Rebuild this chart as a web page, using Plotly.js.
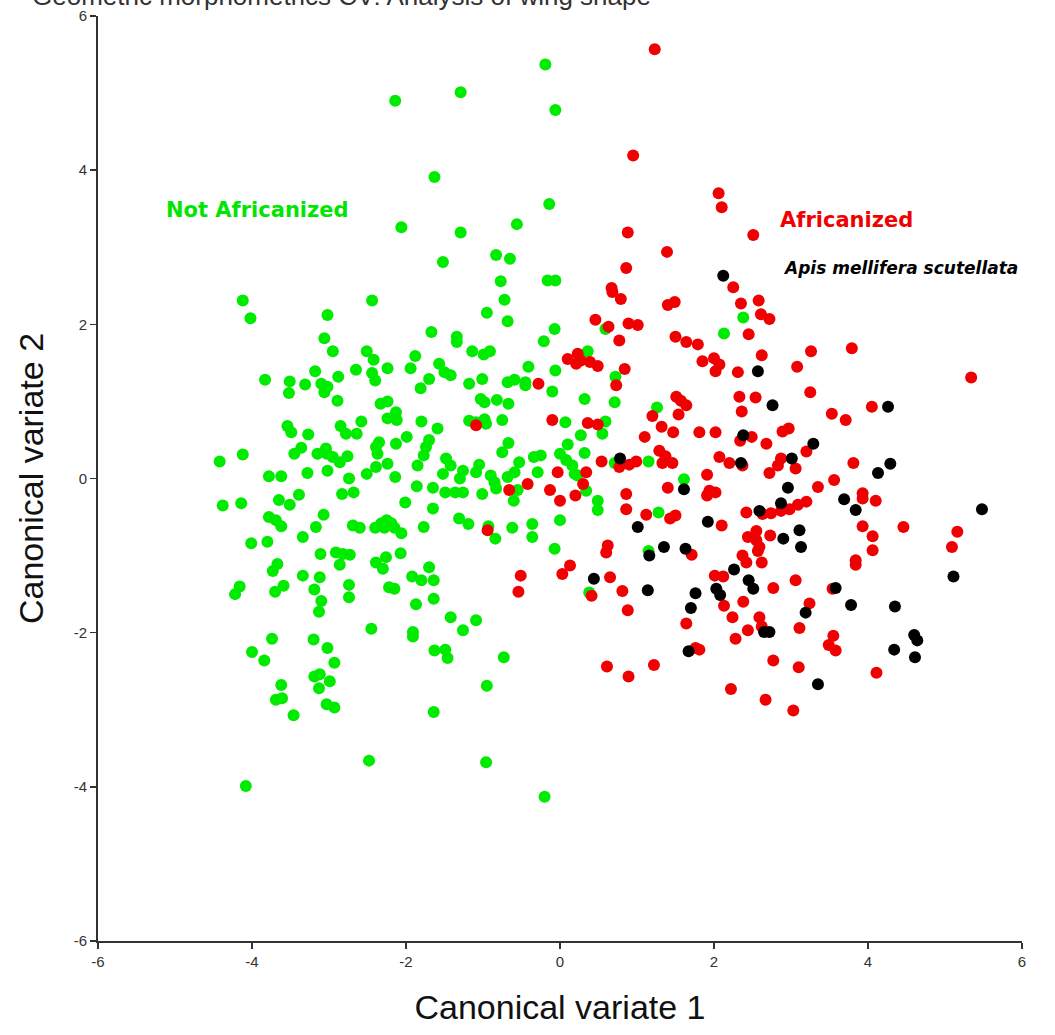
<!DOCTYPE html>
<html>
<head>
<meta charset="utf-8">
<script src="https://cdn.plot.ly/plotly-3.0.1.min.js"></script>
<style>html,body{margin:0;padding:0;background:#fff;}#chart{width:1055px;height:1035px;}</style>
</head>
<body>
<div id="chart"></div>
<script>
// Not Africanized (green)
var notAfrX = [-2.14,-1.29,-1.63,-2.06,-1.29,-1.52,-0.19,-0.06,-0.14,-0.56,-0.83,-0.65,-0.77,-0.16,-0.06,
-4.12,-4.02,-2.44,-3.02,-3.06,-2.95,-1.67,-1.34,-1.34,-2.51,-2.42,-2.24,-1.88,-1.94,-1.57,-1.42,-1.50,-1.70,-1.81,-2.65,-2.44,-2.40,-3.18,-2.88,-3.10,-3.02,-3.06,-2.89,-3.83,-3.51,-3.52,-3.31,-2.33,-2.24,-2.13,-2.24,-2.12,-1.80,-1.59,-2.58,-2.85,-2.78,-2.64,-3.54,-3.49,-3.27,-1.99,-2.13,-2.35,-2.39,-2.37,-1.70,-1.74,-1.77,-1.85,-1.48,-1.42,-1.26,-1.52,-1.30,-1.49,-1.36,-1.26,-1.65,-1.86,-3.04,-3.15,-3.03,-2.95,-2.86,-2.76,-3.36,-3.45,-4.12,-4.42,-2.51,-2.39,-2.24,-2.14,-3.28,-3.02,-3.78,-3.62,-2.74,-2.83,-2.68,-3.39,-3.65,-3.51,-4.38,-4.14,-2.01,-1.65,-1.31,-1.77,-3.07,-3.17,-3.78,-3.69,-3.62,-4.01,-3.80,-3.34,-2.69,-2.60,-2.40,-2.32,-2.25,-2.19,-2.28,-2.15,-2.06,
-0.72,-0.95,-0.68,-0.07,-0.21,-1.14,-0.99,-0.91,0.36,0.59,2.13,-0.41,-0.06,-1.18,-1.01,-0.68,-0.59,-0.45,-0.45,-0.10,0.72,-1.03,-0.98,-0.82,-0.67,0.32,0.71,-1.18,-1.09,-0.98,-0.96,-0.75,0.07,0.59,0.55,1.26,0.27,0.10,-0.67,-0.75,0.32,0.00,0.08,0.16,0.19,0.23,-0.25,-0.34,-0.53,-0.29,-1.05,-1.09,-0.59,-0.68,-0.90,-0.85,-0.83,0.71,1.15,1.61,0.34,-0.60,-0.55,-1.01,0.49,0.49,0.00,1.28,-1.19,-0.62,-0.36,-0.36,-0.93,-0.84,-0.07,1.15,2.38,
0.38,-1.09,-0.73,-0.95,-0.96,-0.20,
-3.67,-3.73,-4.16,-4.22,-3.59,-3.70,-3.34,-3.12,-3.19,-3.10,-3.13,-2.86,-3.11,-2.91,-2.82,-2.73,-2.74,-2.74,-2.39,-2.30,-2.26,-2.07,-2.22,-2.15,-2.45,-1.92,-1.80,-1.64,-1.70,-1.64,-1.87,-1.42,-1.26,-1.91,-1.91,-1.63,-1.49,-1.46,-1.64,-2.48,-4.08,-3.74,-4.00,-3.84,-3.20,-3.02,-2.93,-3.19,-3.12,-3.13,-2.99,-3.62,-3.69,-3.61,-3.46,-3.03,-2.93];
var notAfrY = [4.90,5.01,3.91,3.26,3.19,2.81,5.37,4.78,3.56,3.30,2.90,2.85,2.56,2.57,2.57,
2.31,2.08,2.31,2.12,1.82,1.65,1.90,1.84,1.77,1.65,1.54,1.43,1.59,1.43,1.49,1.34,1.38,1.29,1.17,1.41,1.37,1.27,1.39,1.32,1.23,1.19,1.12,1.01,1.28,1.26,1.11,1.22,0.97,1.00,0.86,0.78,0.76,0.74,0.65,0.74,0.68,0.58,0.58,0.68,0.60,0.57,0.54,0.45,0.47,0.41,0.32,0.50,0.41,0.30,0.17,0.26,0.17,0.10,0.06,0.00,-0.18,-0.18,-0.18,-0.12,-0.10,0.39,0.32,0.32,0.28,0.21,0.29,0.40,0.32,0.31,0.22,0.06,0.15,0.19,0.02,0.07,0.10,0.03,0.03,0.00,-0.20,-0.18,-0.21,-0.28,-0.34,-0.35,-0.32,-0.31,-0.39,-0.52,-0.63,-0.47,-0.63,-0.50,-0.54,-0.62,-0.84,-0.82,-0.76,-0.61,-0.64,-0.64,-0.58,-0.54,-0.58,-0.64,-0.64,-0.71,
2.32,2.15,2.04,1.94,1.78,1.65,1.61,1.65,1.65,1.94,1.88,1.45,1.40,1.23,1.29,1.25,1.28,1.25,1.21,1.13,1.32,1.03,0.99,1.02,0.97,1.03,0.99,0.75,0.73,0.77,0.71,0.76,0.73,0.74,0.58,0.92,0.56,0.44,0.46,0.34,0.33,0.32,0.24,0.17,0.06,0.04,0.30,0.28,0.21,0.08,0.18,0.08,0.08,0.02,0.04,-0.05,-0.13,0.20,0.22,-0.01,-0.16,-0.29,-0.15,-0.20,-0.29,-0.41,-0.54,-0.44,-0.59,-0.64,-0.59,-0.76,-0.62,-0.78,-0.91,-0.94,2.09,
-1.48,-1.84,-2.32,-2.69,-3.68,-4.13,
-1.11,-1.20,-1.40,-1.50,-1.39,-1.47,-1.26,-1.28,-1.44,-1.59,-1.73,-1.12,-0.98,-0.96,-0.98,-0.99,-1.38,-1.54,-1.09,-1.17,-1.02,-0.97,-1.41,-1.43,-1.95,-1.27,-1.32,-1.32,-1.15,-1.56,-1.63,-1.80,-1.97,-1.99,-2.05,-2.23,-2.22,-2.33,-3.03,-3.66,-3.99,-2.08,-2.25,-2.36,-2.09,-2.20,-2.39,-2.57,-2.54,-2.72,-2.63,-2.68,-2.87,-2.85,-3.07,-2.93,-2.97];

// Africanized (red)
var afrX = [1.23,0.95,2.06,2.10,0.88,1.39,0.86,0.67,2.25,2.51,
0.68,0.79,1.40,1.49,0.46,0.63,0.89,1.01,0.77,1.50,1.64,1.79,0.10,0.23,0.21,0.27,0.39,0.49,0.84,0.73,1.85,2.00,2.07,2.02,-0.28,1.51,1.57,1.64,1.20,1.54,-0.10,0.36,0.49,1.32,1.47,1.10,1.81,2.02,-1.09,1.29,1.37,1.46,1.33,2.07,2.20,0.54,0.77,0.90,0.99,-0.03,0.34,0.30,-0.42,-0.66,-0.13,0.00,0.20,0.86,1.40,1.91,1.94,2.02,1.91,0.86,1.12,1.43,1.50,2.10,-0.94,0.62,
2.35,2.58,2.61,2.72,2.45,2.62,3.26,3.79,3.08,5.34,2.31,2.33,2.54,3.25,2.36,3.53,3.71,4.05,2.89,2.97,2.34,2.49,2.68,3.20,2.87,2.83,2.72,3.06,2.37,3.81,3.56,3.35,3.93,3.93,4.10,3.20,3.09,2.98,2.87,2.74,2.63,2.42,2.73,2.55,2.44,2.55,3.93,4.06,4.46,5.16,5.09,2.59,4.06,
0.60,1.71,0.13,0.03,-0.51,-0.54,0.65,0.41,0.81,0.88,1.64,2.01,2.12,2.13,2.24,2.28,1.76,1.81,0.61,0.89,1.22,2.22,
2.37,2.42,2.62,2.57,3.84,3.84,2.77,3.06,3.54,3.24,2.38,2.59,2.62,2.44,3.11,3.55,3.49,3.58,4.11,2.77,3.10,2.67,3.03];
var afrY = [5.57,4.19,3.70,3.52,3.19,2.94,2.73,2.47,2.48,3.16,
2.42,2.33,2.25,2.29,2.06,1.97,2.01,1.99,1.79,1.84,1.77,1.74,1.55,1.62,1.49,1.53,1.51,1.46,1.42,1.21,1.52,1.56,1.48,1.39,1.23,1.06,1.01,0.95,0.81,0.83,0.76,0.72,0.70,0.67,0.60,0.54,0.60,0.60,0.69,0.36,0.29,0.20,0.20,0.28,0.20,0.22,0.15,0.18,0.22,0.08,0.08,-0.07,-0.07,-0.15,-0.15,-0.29,-0.22,-0.20,-0.12,0.05,-0.16,-0.18,-0.22,-0.40,-0.47,-0.52,-0.48,-0.61,-0.67,-0.87,
2.27,2.31,2.13,2.07,1.87,1.60,1.65,1.69,1.45,1.31,1.38,1.06,1.05,1.12,0.87,0.84,0.76,0.93,0.61,0.65,0.49,0.54,0.45,0.35,0.26,0.17,0.07,0.13,0.17,0.20,-0.02,-0.11,-0.19,-0.26,-0.29,-0.30,-0.34,-0.40,-0.42,-0.45,-0.46,-0.44,-0.74,-0.68,-0.76,-0.80,-0.62,-0.75,-0.63,-0.69,-0.89,-0.89,-0.93,
-0.96,-0.99,-1.13,-1.24,-1.26,-1.47,-1.28,-1.52,-1.46,-1.71,-1.88,-1.26,-1.27,-1.65,-1.80,-2.08,-2.20,-2.22,-2.44,-2.57,-2.42,-2.73,
-1.00,-1.09,-1.09,-0.94,-1.06,-1.12,-1.42,-1.32,-1.43,-1.62,-1.60,-1.80,-1.92,-1.97,-1.94,-2.04,-2.16,-2.23,-2.52,-2.36,-2.45,-2.87,-3.01];

// Apis mellifera scutellata (black)
var scutX = [2.12,0.78,1.61,1.01,1.92,1.35,1.63,
2.57,2.76,4.26,2.38,3.29,3.01,2.35,4.29,4.13,2.96,3.69,3.84,5.48,2.87,2.59,3.11,2.90,3.13,
1.16,0.44,1.14,1.76,1.70,2.03,2.08,2.26,1.67,
5.11,2.45,2.51,3.58,3.78,4.35,3.19,2.65,2.72,4.60,4.64,4.34,4.61,3.35];
var scutY = [2.63,0.26,-0.14,-0.63,-0.56,-0.89,-0.91,
1.39,0.95,0.93,0.56,0.45,0.26,0.20,0.19,0.07,-0.12,-0.27,-0.41,-0.40,-0.32,-0.42,-0.67,-0.78,-0.89,
-1.00,-1.30,-1.45,-1.49,-1.68,-1.43,-1.51,-1.18,-2.24,
-1.27,-1.32,-1.43,-1.42,-1.64,-1.66,-1.74,-1.99,-1.99,-2.03,-2.10,-2.22,-2.32,-2.67];

var tickVals = [-6,-4,-2,0,2,4,6];
var tickText = ['-6','-4','-2','0','2','4','6'];

var mk = function(c){ return {size:12, color:c, line:{width:0}}; };
var data = [
  {x:notAfrX, y:notAfrY, mode:'markers', type:'scatter', name:'Not Africanized', marker:mk('rgb(0,235,0)')},
  {x:afrX, y:afrY, mode:'markers', type:'scatter', name:'Africanized', marker:mk('rgb(240,0,0)')},
  {x:scutX, y:scutY, mode:'markers', type:'scatter', name:'Apis mellifera scutellata', marker:mk('rgb(0,0,0)')}
];

var tickFont = {family:'Liberation Sans Narrow, Arial Narrow, Liberation Sans, sans-serif', size:15, color:'#333'};
var titleFont = {family:'Liberation Sans, Arial, sans-serif', size:34, color:'#111'};

var layout = {
  width:1055, height:1035,
  margin:{l:98, r:33, t:16, b:94, pad:0},
  paper_bgcolor:'#fff', plot_bgcolor:'#fff',
  showlegend:false,
  xaxis:{range:[-6,6], tickvals:tickVals, ticktext:tickText, showgrid:false, zeroline:false, showline:true, linecolor:'#333', linewidth:2, ticks:'outside', ticklen:6, tickwidth:1.5, tickcolor:'#333', tickfont:tickFont, automargin:false,
    title:{text:'Canonical variate 1', font:titleFont, standoff:26}},
  yaxis:{range:[-6,6], tickvals:tickVals, ticktext:tickText, showgrid:false, zeroline:false, showline:true, linecolor:'#333', linewidth:2, ticks:'outside', ticklen:6, tickwidth:1.5, tickcolor:'#333', tickfont:tickFont, automargin:false,
    title:{text:'Canonical variate 2', font:titleFont, standoff:20}},
  annotations:[
    {text:'Geometric morphometrics CV: Analysis of wing shape', x:-0.0736, y:1.003, xref:'paper', yref:'paper', xanchor:'left', yanchor:'bottom', showarrow:false, font:{family:'Liberation Sans, Arial, sans-serif', size:26, color:'#333'}},
    {text:'<b>Not Africanized</b>', x:-5.14, y:3.48, xref:'x', yref:'y', xanchor:'left', yanchor:'middle', showarrow:false, font:{family:'DejaVu Sans, Verdana, sans-serif', size:21, color:'rgb(0,230,0)'}},
    {text:'<b>Africanized</b>', x:2.83, y:3.35, xref:'x', yref:'y', xanchor:'left', yanchor:'middle', showarrow:false, font:{family:'DejaVu Sans, Verdana, sans-serif', size:21, color:'rgb(240,0,0)'}},
    {text:'<b><i>Apis mellifera scutellata</i></b>', x:2.87, y:2.73, xref:'x', yref:'y', xanchor:'left', yanchor:'middle', showarrow:false, font:{family:'DejaVu Sans, Verdana, sans-serif', size:17, color:'#000'}}
  ]
};

Plotly.newPlot('chart', data, layout, {displayModeBar:false, staticPlot:true});
</script>
</body>
</html>
